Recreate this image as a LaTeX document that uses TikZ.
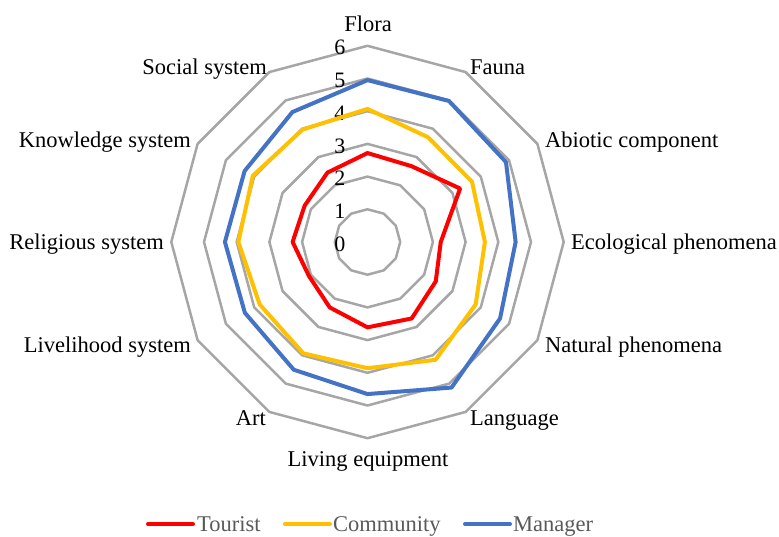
\documentclass[tikz,border=0pt]{standalone}
\usepackage{fontspec}
\setmainfont{Liberation Serif}
\usepackage{tikz}
\definecolor{ringgrey}{HTML}{A6A6A6}
\definecolor{touristred}{HTML}{FF0000}
\definecolor{communityyellow}{HTML}{FFC000}
\definecolor{managerblue}{HTML}{4472C4}
\definecolor{legendgrey}{HTML}{595959}
\def\dodecagon[#1](#2){\draw[#1] (90:#2) -- (60:#2) -- (30:#2) -- (0:#2) -- (-30:#2) -- (-60:#2) -- (-90:#2) -- (-120:#2) -- (-150:#2) -- (180:#2) -- (150:#2) -- (120:#2) -- cycle;}

\begin{document}
\begin{tikzpicture}[x=32.7pt, y=32.7pt,
		ring/.style={line width=2.5pt, color=ringgrey, line join=round},
		series/.style={line width=4pt, line join=round},
		axislabel/.style={font=\fontsize{22.5}{24}\selectfont, inner sep=0pt, text height=14.8pt, text depth=0pt},
		ticklabel/.style={font=\fontsize{22}{24}\selectfont, inner sep=0pt, anchor=east, xshift=-22pt, yshift=-2pt},
		legendlabel/.style={axislabel, color=legendgrey, anchor=west}]
		%%%%% START %%%%%
		
		\useasboundingbox (-367.5pt, -294pt) rectangle (411.5pt, 242pt);
		
		\dodecagon[ring](1);
		\dodecagon[ring](2);
		\dodecagon[ring](3);
		\dodecagon[ring](4);
		\dodecagon[ring](5);
		\dodecagon[ring](6);
		
		\node[ticklabel] (t0) at (0, 0) {0};
		\node[ticklabel] (t1) at (0, 1) {1};
		\node[ticklabel] (t2) at (0, 2) {2};
		\node[ticklabel] (t3) at (0, 3) {3};
		\node[ticklabel] (t4) at (0, 4) {4};
		\node[ticklabel] (t5) at (0, 5) {5};
		\node[ticklabel] (t6) at (0, 6) {6};
		
		\draw[series, color=touristred] (90:2.72) -- (60:2.68) -- (30:3.27) -- (0:2.24) -- (-30:2.41) -- (-60:2.70) -- (-90:2.61) -- (-120:2.31) -- (-150:2.07) -- (180:2.29) -- (150:2.22) -- (120:2.45) -- cycle;
		\draw[series, color=communityyellow] (90:4.07) -- (60:3.70) -- (30:3.69) -- (0:3.59) -- (-30:3.82) -- (-60:4.16) -- (-90:3.86) -- (-120:3.93) -- (-150:3.81) -- (180:3.95) -- (150:4.05) -- (120:3.97) -- cycle;
		\draw[series, color=managerblue] (90:4.95) -- (60:4.98) -- (30:4.89) -- (0:4.53) -- (-30:4.68) -- (-60:5.14) -- (-90:4.65) -- (-120:4.51) -- (-150:4.33) -- (180:4.36) -- (150:4.34) -- (120:4.59) -- cycle;
		
		\node[axislabel] (flora) at (0.5pt, 218pt) {Flora};
		\node[axislabel, anchor=west] (fauna) at (102.5pt, 175pt) {Fauna};
		\node[axislabel, anchor=west] (abiotic) at (177.5pt, 102pt) {Abiotic component};
		\node[axislabel, anchor=west] (ecological) at (203.5pt, 0pt) {Ecological phenomena};
		\node[axislabel, anchor=west] (natural) at (177.5pt, -103pt) {Natural phenomena};
		\node[axislabel, anchor=west] (language) at (102.5pt, -176pt) {Language};
		\node[axislabel] (living) at (0.5pt, -217pt) {Living equipment};
		\node[axislabel, anchor=east] (art) at (-101.5pt, -176pt) {Art};
		\node[axislabel, anchor=east] (livelihood) at (-176.5pt, -103pt) {Livelihood system};
		\node[axislabel, anchor=east] (religious) at (-203.5pt, 0pt) {Religious system};
		\node[axislabel, anchor=east] (knowledge) at (-176.5pt, 102pt) {Knowledge system};
		\node[axislabel, anchor=east] (social) at (-100.5pt, 175pt) {Social system};
		
		\draw[series, line cap=round, color=touristred] (-219.5pt, -282pt) -- (-174.5pt, -282pt);
		\node[legendlabel] (tourist) at (-170.5pt, -282pt) {Tourist};
		\draw[series, line cap=round, color=communityyellow] (-82.5pt, -282pt) -- (-37.5pt, -282pt);
		\node[legendlabel] (community) at (-34.5pt, -282pt) {Community};
		\draw[series, line cap=round, color=managerblue] (97.5pt, -282pt) -- (142.5pt, -282pt);
		\node[legendlabel] (manager) at (145.5pt, -282pt) {Manager};
		
		%%%%% END %%%%%
	\end{tikzpicture}
\end{document}
